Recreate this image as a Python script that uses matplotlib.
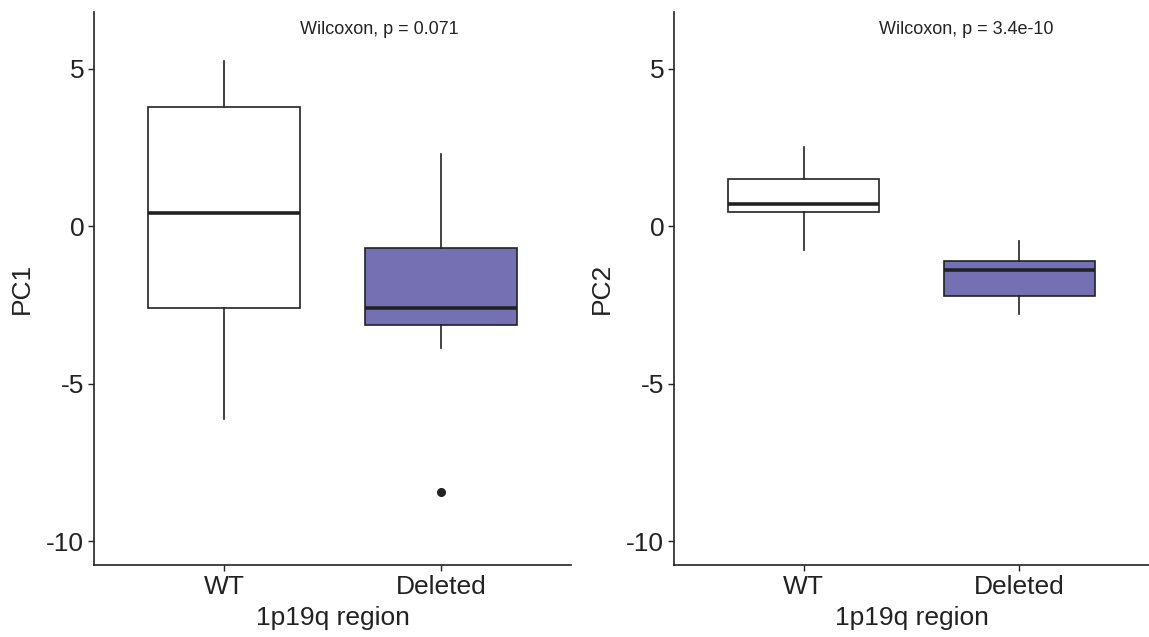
import matplotlib
matplotlib.use("Agg")
import matplotlib.pyplot as plt

plt.rcParams['font.family'] = ['Liberation Sans', 'DejaVu Sans']

groups = ['WT', 'Deleted']
fills = ['white', '#7570B3']

# box stats: whislo, q1, med, q3, whishi
pc1_whislo = [-6.11, -3.85]
pc1_q1 = [-2.61, -3.12]
pc1_med = [0.41, -2.58]
pc1_q3 = [3.79, -0.70]
pc1_whishi = [5.25, 2.29]
pc1_fliers = [[], [-8.44]]

pc2_whislo = [-0.76, -2.77]
pc2_q1 = [0.45, -2.20]
pc2_med = [0.70, -1.40]
pc2_q3 = [1.50, -1.11]
pc2_whishi = [2.52, -0.48]
pc2_fliers = [[], []]

pvals = ['Wilcoxon, p = 0.071', 'Wilcoxon, p = 3.4e-10']
ylabels = ['PC1', 'PC2']

fig = plt.figure(figsize=(11.49, 6.37), dpi=100)
W, H = 1149, 637
ax1 = fig.add_axes([94 / W, (H - 565) / H, 477 / W, 553 / H])
ax2 = fig.add_axes([674 / W, (H - 565) / H, 475 / W, 553 / H])

panels = [
    (ax1, pc1_whislo, pc1_q1, pc1_med, pc1_q3, pc1_whishi, pc1_fliers),
    (ax2, pc2_whislo, pc2_q1, pc2_med, pc2_q3, pc2_whishi, pc2_fliers),
]

dark = '#222222'
for i, (ax, lo, q1, med, q3, hi, fl) in enumerate(panels):
    stats = []
    for j, g in enumerate(groups):
        stats.append(dict(label=g, whislo=lo[j], q1=q1[j], med=med[j],
                          q3=q3[j], whishi=hi[j], fliers=fl[j]))
    bp = ax.bxp(stats, positions=[1, 2], widths=0.7, patch_artist=True,
                showcaps=False,
                boxprops=dict(edgecolor=dark, linewidth=1.2),
                whiskerprops=dict(color=dark, linewidth=1.2),
                medianprops=dict(color=dark, linewidth=2.6),
                flierprops=dict(marker='o', markerfacecolor=dark,
                                markeredgecolor=dark, markersize=5.5))
    for patch, c in zip(bp['boxes'], fills):
        patch.set_facecolor(c)

    ax.set_xlim(0.4, 2.6)
    ax.set_ylim(-10.76, 6.81)
    ax.set_yticks([-10, -5, 0, 5])
    ax.set_yticklabels(['-10', '-5', '0', '5'])
    ax.set_xticks([1, 2])
    ax.set_xticklabels(groups)
    for s in ['top', 'right']:
        ax.spines[s].set_visible(False)
    for s in ['left', 'bottom']:
        ax.spines[s].set_linewidth(1.2)
        ax.spines[s].set_color(dark)
    ax.tick_params(axis='both', length=4, width=1.0, color=dark,
                   labelsize=19, labelcolor=dark, pad=3)
    ax.set_xlabel('1p19q region', fontsize=19, color=dark, labelpad=5)
    ax.set_ylabel(ylabels[i], fontsize=19, color=dark, labelpad=9)
    ax.text(0.432, 0.969, pvals[i], transform=ax.transAxes, ha='left',
            va='center', fontsize=13, color=dark)

fig.savefig('out.png', dpi=100)
